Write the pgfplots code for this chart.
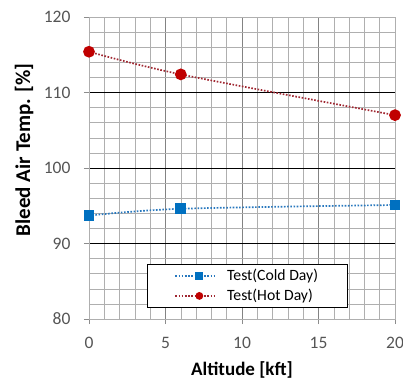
\documentclass[border=0pt]{standalone}
\usepackage{pgfplots}
\pgfplotsset{compat=1.18}
\usepackage{fontspec}
\setmainfont{Carlito}
\definecolor{cblue}{RGB}{0,112,192}
\definecolor{lblue}{RGB}{40,120,190}
\definecolor{cred}{RGB}{192,0,0}
\definecolor{lred}{RGB}{160,40,50}
\definecolor{gridg}{RGB}{175,175,175}
\definecolor{tickc}{RGB}{85,85,85}
\begin{document}
\begin{tikzpicture}
\useasboundingbox (-89pt,-67pt) rectangle (314pt,319pt);
\begin{axis}[
  at={(0,0)}, anchor=south west,
  scale only axis, width=306pt, height=302pt,
  xmin=0, xmax=20, ymin=80, ymax=120,
  xtick={0,5,10,15,20}, ytick={80,90,100,110,120},
  minor x tick num=4, minor y tick num=4,
  /pgf/number format/assume math mode=true,
  tick label style={font=\fontsize{17.5}{20}\selectfont, text=tickc},
  xticklabel style={anchor=base, yshift=-24pt},
  yticklabel style={xshift=-10pt},
  tick pos=left, tick align=outside,
  major tick length=5pt, minor tick length=0pt,
  every tick/.style={gridg!80!black},
  axis line style={gridg},
  grid=both,
  minor x grid style={gridg, line width=0.5pt},
  minor y grid style={gridg, line width=0.5pt},
  major x grid style={gridg!75!black, line width=0.7pt},
  major y grid style={black, line width=0.9pt},
  xlabel={\textbf{Altitude [kft]}},
  ylabel={\textbf{Bleed Air Temp. [\%]}},
  xlabel style={font=\fontsize{19}{22}\selectfont, at={(axis description cs:0.5,-0.168)}, anchor=center},
  ylabel style={font=\fontsize{21}{24}\selectfont, at={(axis description cs:-0.212,0.56)}, anchor=center},
  legend style={at={(axis description cs:0.190,0.182)}, anchor=north west,
    draw=black, line width=0.8pt, fill=white,
    font=\fontsize{15.7}{18}\selectfont, row sep=3pt,
    inner xsep=27pt, inner ysep=3pt},
  legend cell align=left,
  legend image code/.code={\draw[#1, line width=1.6pt] (3pt,0pt) -- (44pt,0pt); \path[#1, solid, mark size=3pt] plot coordinates {(27pt,0pt)}; \path (52pt,0pt);},
]
\addplot[lblue, dash pattern=on 1.6pt off 1.6pt, line width=1.7pt, smooth, mark=square*, mark size=4.5pt, mark options={solid, draw=cblue, fill=cblue}]
  coordinates {(0,93.7) (6,94.6) (20,95.1)};
\addlegendentry{Test(Cold Day)}
\addplot[lred, dash pattern=on 1.6pt off 1.6pt, line width=1.7pt, smooth, mark=*, mark size=5pt, mark options={solid, draw=cred, fill=cred}]
  coordinates {(0,115.4) (6,112.4) (20,107.0)};
\addlegendentry{Test(Hot Day)}
\end{axis}
\end{tikzpicture}
\end{document}
